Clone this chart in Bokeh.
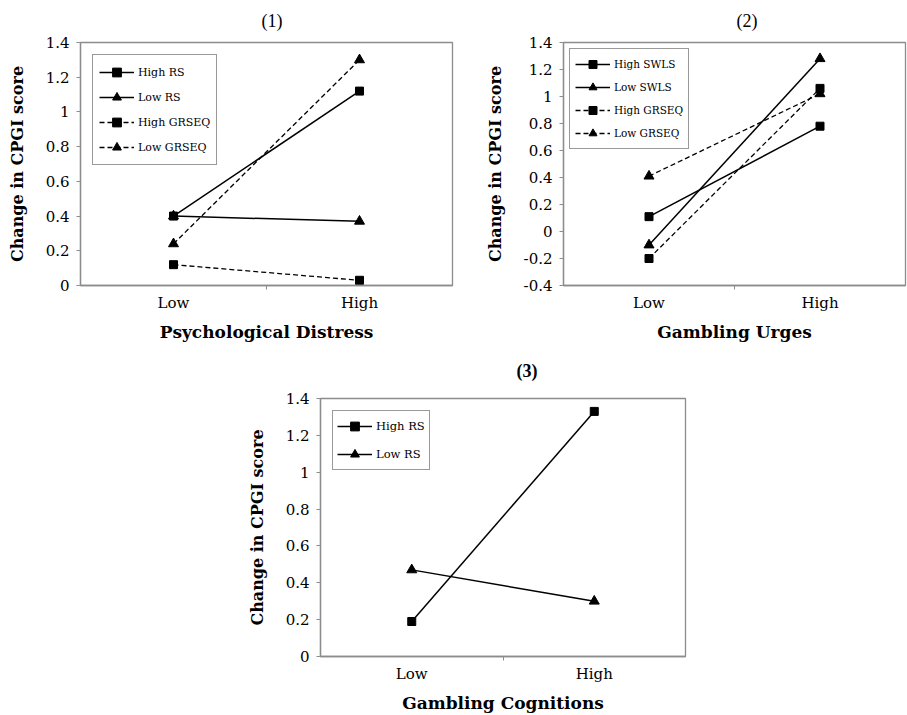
from bokeh.plotting import figure
from bokeh.models import Range1d, FixedTicker, Legend, LegendItem, Spacer
from bokeh.layouts import row, column
from bokeh.embed import file_html
from bokeh.resources import INLINE

# ---------------- data ----------------
levels = ["Low", "High"]
level_pos = [0.5, 1.5]
level_boundary = [1.0]

y_ticks_a = [0, 0.2, 0.4, 0.6, 0.8, 1, 1.2, 1.4]
y_labels_a = ["0", "0.2", "0.4", "0.6", "0.8", "1", "1.2", "1.4"]
y_ticks_b = [-0.4, -0.2, 0, 0.2, 0.4, 0.6, 0.8, 1, 1.2, 1.4]
y_labels_b = ["-0.4", "-0.2", "0", "0.2", "0.4", "0.6", "0.8", "1", "1.2", "1.4"]

y_title = "Change in CPGI score"

# Panel (1) Psychological Distress
p1_title = "(1)"
p1_xlabel = "Psychological Distress"
p1_names = ["High RS", "Low RS", "High GRSEQ", "Low GRSEQ"]
p1_high_rs = [0.40, 1.12]
p1_low_rs = [0.40, 0.37]
p1_high_grseq = [0.12, 0.03]
p1_low_grseq = [0.24, 1.30]

# Panel (2) Gambling Urges
p2_title = "(2)"
p2_xlabel = "Gambling Urges"
p2_names = ["High SWLS", "Low SWLS", "High GRSEQ", "Low GRSEQ"]
p2_high_swls = [0.11, 0.78]
p2_low_swls = [-0.10, 1.28]
p2_high_grseq = [-0.20, 1.06]
p2_low_grseq = [0.41, 1.02]

# Panel (3) Gambling Cognitions
p3_title = "(3)"
p3_xlabel = "Gambling Cognitions"
p3_names = ["High RS", "Low RS"]
p3_high_rs = [0.19, 1.33]
p3_low_rs = [0.47, 0.30]

FRAME = "#8c8c8c"
SERIF = "DejaVu Serif"


def make_panel(title, title_bold, title_offset, title_standoff, xlabel,
               series, yr, yticks, ylabels, width, height, borders, leg):
    bl, br, bt, bb = borders
    p = figure(width=width, height=height, output_backend="svg",
               toolbar_location=None, x_range=Range1d(0, 2),
               y_range=Range1d(yr[0], yr[1]),
               min_border_left=bl, min_border_right=br,
               min_border_top=bt, min_border_bottom=bb)
    p.background_fill_color = "white"
    p.border_fill_color = "white"
    p.outline_line_color = FRAME
    p.outline_line_width = 1.3
    p.xgrid.grid_line_color = None
    p.ygrid.grid_line_color = None

    p.title.text = title
    p.title.align = "left"
    p.title.offset = title_offset
    p.title.vertical_align = "top"
    p.title.standoff = title_standoff
    p.title.text_color = "black"
    p.title.text_font = "Liberation Serif"
    p.title.text_font_size = "18px"
    p.title.text_font_style = "bold" if title_bold else "normal"

    # x axis
    xa = p.xaxis[0]
    xa.ticker = FixedTicker(ticks=level_pos, minor_ticks=level_boundary)
    xa.major_label_overrides = dict(zip(level_pos, levels))
    xa.major_tick_line_color = None
    xa.major_tick_out = 0
    xa.major_tick_in = 0
    xa.minor_tick_line_color = FRAME
    xa.minor_tick_out = 4
    xa.minor_tick_in = 0
    xa.axis_line_color = FRAME
    xa.axis_line_width = 1.3
    xa.major_label_standoff = 4
    xa.major_label_text_font = SERIF
    xa.major_label_text_font_size = "15px"
    xa.major_label_text_color = "black"
    xa.axis_label = xlabel
    xa.axis_label_text_font = SERIF
    xa.axis_label_text_font_size = "17px"
    xa.axis_label_text_font_style = "bold"
    xa.axis_label_text_color = "black"
    xa.axis_label_standoff = 7

    # y axis
    ya = p.yaxis[0]
    ya.ticker = FixedTicker(ticks=yticks, minor_ticks=[])
    ya.major_label_overrides = dict(zip(yticks, ylabels))
    ya.major_tick_line_color = FRAME
    ya.major_tick_out = 4
    ya.major_tick_in = 0
    ya.minor_tick_line_color = None
    ya.axis_line_color = FRAME
    ya.axis_line_width = 1.3
    ya.major_label_standoff = 7
    ya.major_label_text_font = SERIF
    ya.major_label_text_font_size = "15px"
    ya.major_label_text_color = "black"
    ya.axis_label = y_title
    ya.axis_label_text_font = SERIF
    ya.axis_label_text_font_size = "16px"
    ya.axis_label_text_font_style = "bold"
    ya.axis_label_text_color = "black"
    ya.axis_label_standoff = 16

    items = []
    for name, vals, marker, dashed in series:
        if dashed:
            lr = p.line(level_pos, vals, line_color="black", line_width=1.3,
                        line_dash="5 3")
        else:
            lr = p.line(level_pos, vals, line_color="black", line_width=1.5)
        if marker == "square":
            sr = p.scatter(level_pos, vals, marker="square", size=8,
                           fill_color="black", line_color="black")
        else:
            sr = p.scatter(level_pos, vals, marker="triangle", size=10,
                           fill_color="black", line_color="black")
        items.append(LegendItem(label=name, renderers=[lr, sr]))

    legend = Legend(items=items, location="top_left")
    legend.border_line_color = "#333333"
    legend.border_line_width = 1.6
    legend.background_fill_color = "white"
    legend.background_fill_alpha = 1.0
    legend.label_text_font = SERIF
    legend.label_text_font_size = leg["font"]
    legend.label_text_color = "black"
    legend.glyph_width = 35
    legend.glyph_height = leg["gh"]
    legend.label_height = leg["gh"]
    legend.spacing = leg["sp"]
    legend.padding = leg["pad"]
    legend.margin = leg["margin"]
    legend.label_standoff = 4
    p.add_layout(legend)
    return p


p1 = make_panel(
    p1_title, False, 181, 19, p1_xlabel,
    [(p1_names[0], p1_high_rs, "square", False),
     (p1_names[1], p1_low_rs, "triangle", False),
     (p1_names[2], p1_high_grseq, "square", True),
     (p1_names[3], p1_low_grseq, "triangle", True)],
    (0, 1.4), y_ticks_a, y_labels_a,
    width=476, height=344, borders=(80, 24, 42, 57),
    leg=dict(font="11px", gh=22, sp=3, pad=6, margin=12))

p2 = make_panel(
    p2_title, False, 173, 19, p2_xlabel,
    [(p2_names[0], p2_high_swls, "square", False),
     (p2_names[1], p2_low_swls, "triangle", False),
     (p2_names[2], p2_high_grseq, "square", True),
     (p2_names[3], p2_low_grseq, "triangle", True)],
    (-0.4, 1.4), y_ticks_b, y_labels_b,
    width=431, height=344, borders=(87, 2, 42, 57),
    leg=dict(font="10.5px", gh=20, sp=3, pad=5, margin=6))

p3 = make_panel(
    p3_title, True, 196, 31, p3_xlabel,
    [(p3_names[0], p3_high_rs, "square", False),
     (p3_names[1], p3_low_rs, "triangle", False)],
    (0, 1.4), y_ticks_a, y_labels_a,
    width=475, height=371, borders=(90, 20, 54, 58),
    leg=dict(font="11.5px", gh=22, sp=6, pad=4, margin=12))

layout = column(row(p1, p2), row(Spacer(width=230, height=371), p3))

open("out.html", "w").write(file_html(layout, INLINE))
